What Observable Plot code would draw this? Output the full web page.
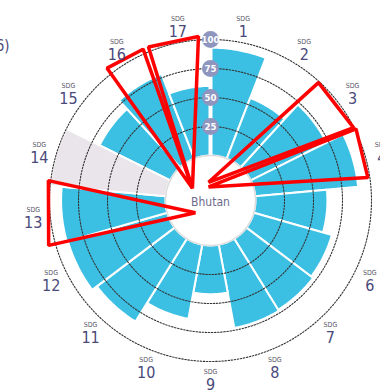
<!DOCTYPE html>
<html><head><meta charset="utf-8">
<script src="https://cdn.jsdelivr.net/npm/d3@7"></script>
<script src="https://cdn.jsdelivr.net/npm/@observablehq/plot@0.6"></script>
<style>body{margin:0;background:#fff;} svg{display:block}</style>
</head><body><div id="chart"></div>
<script>
// ---- data ----
const sdgs = [1,2,3,4,5,6,7,8,9,10,11,12,13,14,15,16,17];
const scores = [93,56,73,89,62,70,72,73,42,65,84,89,90,null,68,78,60];
const noDataValue = 100;          // grey sector (no data) drawn to full scale
const levels = [25,50,75,100];
const levelLabels = ["25","50","75","100"];
const centerLabel = "Bhutan";
const cornerText = "(2016)";
// hand-drawn highlight triangles: apex (angle, value) and two outer corners (angle, value)
const hlSdg      = [16, 17, 3, 4, 13];
const hlApexAng  = [304, 304, 354, 352, 231];
const hlApexVal  = [-20, -20, -23, -27, -22];
const hlAng0     = [322, 338, 42.5, 63.8, 254.5];
const hlVal0     = [106, 104, 99, 101, 106];
const hlAng1     = [336, 355.8, 63, 81.7, 277];
const hlVal1     = [104, 103, 99.6, 98.3, 102];

// ---- geometry ----
const W = 380, H = 390, cx = 210, cy = 200, k = 1.16;  // px per value unit
const hole = 45 / k;                                    // inner radius in value units
const step = 360 / sdgs.length;
const rad = a => a * Math.PI / 180;
const polar = (a, v) => ({x: (hole + v) * Math.sin(rad(a)), y: (hole + v) * Math.cos(rad(a))});

const bars = [];
sdgs.forEach((s, i) => {
  const v = scores[i] == null ? noDataValue : scores[i];
  const nd = scores[i] == null;
  const a0 = i * step, a1 = (i + 1) * step, n = 24;
  for (let j = 0; j <= n; j++) bars.push({sdg: s, nd, ...polar(a0 + (a1 - a0) * j / n, v)});
  for (let j = n; j >= 0; j--) bars.push({sdg: s, nd, ...polar(a0 + (a1 - a0) * j / n, 0)});
});

const rings = [];
[0, ...levels].forEach(l => { for (let a = 0; a < 360; a += 1.5) rings.push({level: l, ...polar(a, l)}); });

const tris = [];
hlSdg.forEach((s, i) => {
  tris.push({sdg: s, ...polar(hlApexAng[i], hlApexVal[i])});
  tris.push({sdg: s, ...polar(hlAng0[i], hlVal0[i])});
  tris.push({sdg: s, ...polar(hlAng1[i], hlVal1[i])});
});

const labelR = 178 / k - hole;
const labels = sdgs.map((s, i) => ({sdg: String(s), ...polar((i + 0.5) * step, labelR)}));
const lvl = levels.map((l, i) => ({t: levelLabels[i], ...polar(0, l)}));

const font = "Liberation Sans Narrow, DejaVu Sans Condensed, sans-serif";

const chart = Plot.plot({
  width: W, height: H, margin: 0,
  x: {domain: [-cx / k, (W - cx) / k], range: [0, W], axis: null},
  y: {domain: [-(H - cy) / k, cy / k], range: [H, 0], axis: null},
  style: {background: "#fff", fontFamily: font},
  marks: [
    Plot.line(bars.filter(d => !d.nd), {x: "x", y: "y", z: "sdg", fill: "#3BBFE3", stroke: "#fff", strokeWidth: 2, curve: "linear-closed"}),
    Plot.line(bars.filter(d => d.nd), {x: "x", y: "y", z: "sdg", fill: "#EAE5EA", stroke: "#fff", strokeWidth: 2, curve: "linear-closed"}),
    Plot.line([polar(0, 0), polar(0, 100)], {x: "x", y: "y", stroke: "#fff", strokeWidth: 4}),
    Plot.line(rings.filter(d => d.level === 0), {x: "x", y: "y", z: "level", stroke: "#dcdcdc", strokeWidth: 1.5, curve: "linear-closed"}),
    Plot.line(rings.filter(d => d.level > 0), {x: "x", y: "y", z: "level", stroke: "#333", strokeWidth: 1.1, strokeDasharray: "1.5,1.6", curve: "linear-closed"}),
    Plot.dot(lvl, {x: "x", y: "y", r: 8.5, fill: "#8E95BE"}),
    Plot.text(lvl, {x: "x", y: "y", text: "t", fill: "#fff", fontSize: 9.5, fontWeight: "bold"}),
    Plot.line(tris, {x: "x", y: "y", z: "sdg", stroke: "#FF0000", strokeWidth: 3.5, fill: "none", curve: "linear-closed", strokeLinejoin: "miter"}),
    Plot.text(labels, {x: "x", y: "y", text: () => "SDG", dy: -7, fontSize: 7, fill: "#5a5868"}),
    Plot.text(labels, {x: "x", y: "y", text: "sdg", dy: 6, fontSize: 16, fill: "#4a4a7a"}),
    Plot.text([{x: 0, y: 0, t: centerLabel}], {x: "x", y: "y", text: "t", dy: 2, fontSize: 12, fill: "#6e6a8c"}),
    Plot.text([cornerText], {frameAnchor: "top-left", textAnchor: "end", dx: 9, dy: 40, fontSize: 15, fill: "#4a4a7a"})
  ]
});
document.getElementById("chart").append(chart);
</script>
</body></html>
